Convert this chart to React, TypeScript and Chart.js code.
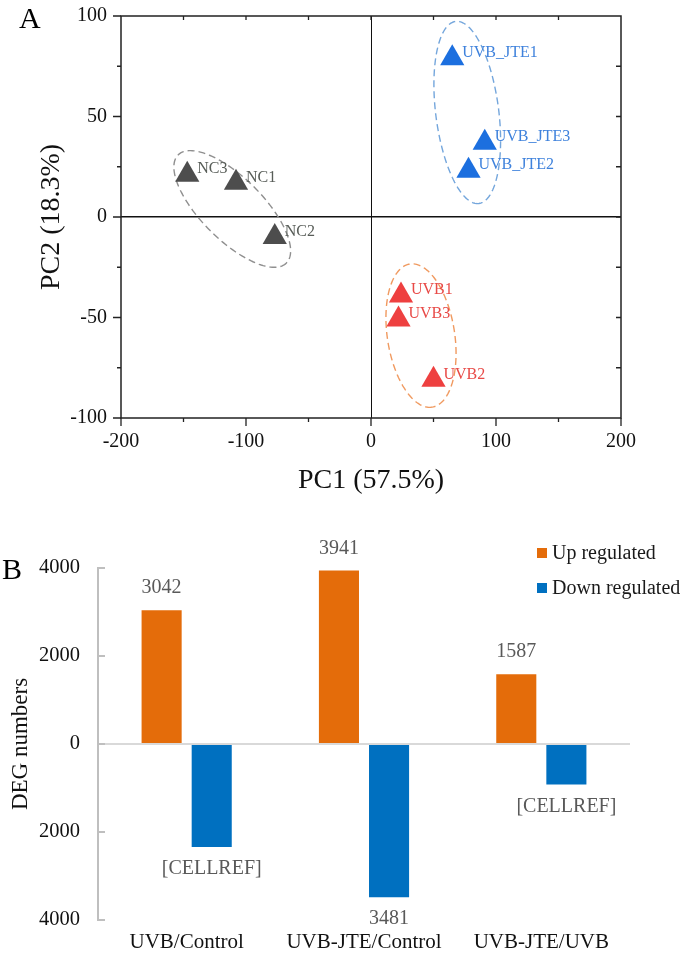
import React, { useEffect, useRef } from "react";
import { Chart, registerables } from "chart.js";

Chart.register(...registerables);

const SERIF = "'Liberation Serif', 'Times New Roman', Times, serif";

// ---------- Panel A: PCA ----------
const ncNames = ["NC1", "NC2", "NC3"];
const ncPC1 = [-108, -77, -147];
const ncPC2 = [17, -10, 21];

const jteNames = ["UVB_JTE1", "UVB_JTE2", "UVB_JTE3"];
const jtePC1 = [65, 78, 91];
const jtePC2 = [79, 23, 37];

const uvbNames = ["UVB1", "UVB2", "UVB3"];
const uvbPC1 = [24, 50, 22];
const uvbPC2 = [-39, -81, -51];

const pc1Ticks = [-200, -100, 0, 100, 200];
const pc2Ticks = [-100, -50, 0, 50, 100];

// group ellipses in data units: centre and two conjugate semi-diameters
const ellipseCenters = [
  [-111, 4],
  [77, 52],
  [40, -59],
];
const ellipseU = [
  [43.3, -26.9],
  [9.3, -45.3],
  [8.9, -35.6],
];
const ellipseV = [
  [-17.5, -10.9],
  [-25.0, -2.0],
  [-26.6, -2.6],
];
const ellipseColors = ["#8f8f8f", "#74a6dc", "#f09a60"];

// ---------- Panel B: DEG bars ----------
const categories = ["UVB/Control", "UVB-JTE/Control", "UVB-JTE/UVB"];
const upRegulated = [3042, 3941, 1587];
const downRegulated = [-2340, -3481, -920];
const upText = ["3042", "3941", "1587"];
const downText = ["[CELLREF]", "3481", "[CELLREF]"];
const degTicks = [-4000, -2000, 0, 2000, 4000];

const pcaPlugin = {
  id: "pcaDecor",
  beforeDatasetsDraw(chart: any) {
    const { ctx } = chart;
    const xs = chart.scales.x;
    const ys = chart.scales.y;
    ctx.save();
    ctx.lineWidth = 1.4;
    ctx.setLineDash([7, 4]);
    ellipseCenters.forEach((c, k) => {
      ctx.strokeStyle = ellipseColors[k];
      ctx.beginPath();
      const n = 160;
      for (let i = 0; i <= n; i++) {
        const t = (i / n) * Math.PI * 2;
        const dx = c[0] + Math.cos(t) * ellipseU[k][0] + Math.sin(t) * ellipseV[k][0];
        const dy = c[1] + Math.cos(t) * ellipseU[k][1] + Math.sin(t) * ellipseV[k][1];
        const px = xs.getPixelForValue(dx);
        const py = ys.getPixelForValue(dy);
        if (i === 0) ctx.moveTo(px, py);
        else ctx.lineTo(px, py);
      }
      ctx.closePath();
      ctx.stroke();
    });
    ctx.restore();
  },
  afterDatasetsDraw(chart: any) {
    const { ctx } = chart;
    const xs = chart.scales.x;
    const ys = chart.scales.y;
    ctx.save();
    // point labels
    ctx.font = `16px ${SERIF}`;
    ctx.textAlign = "left";
    ctx.textBaseline = "middle";
    chart.data.datasets.forEach((ds: any, di: number) => {
      const meta = chart.getDatasetMeta(di);
      ctx.fillStyle = ds.labelColor;
      meta.data.forEach((pt: any, i: number) => {
        ctx.fillText(ds.names[i], pt.x + 10, pt.y - 5.5);
      });
    });
    // frame
    const { left, right, top, bottom } = chart.chartArea;
    ctx.strokeStyle = "#222";
    ctx.lineWidth = 1.5;
    ctx.strokeRect(left, top, right - left, bottom - top);
    ctx.lineWidth = 1.3;
    ctx.beginPath();
    for (let v = -200; v <= 200; v += 50) {
      const px = xs.getPixelForValue(v);
      const major = v % 100 === 0;
      ctx.moveTo(px, bottom);
      ctx.lineTo(px, bottom + (major ? 8 : 4));
      if (v > -200 && v < 200) {
        ctx.moveTo(px, top);
        ctx.lineTo(px, top + 4);
      }
    }
    for (let v = -100; v <= 100; v += 25) {
      const py = ys.getPixelForValue(v);
      const major = v % 50 === 0;
      ctx.moveTo(left - (major ? 8 : 4), py);
      ctx.lineTo(left, py);
      if (v > -100 && v < 100) {
        ctx.moveTo(right - 5, py);
        ctx.lineTo(right, py);
      }
    }
    ctx.stroke();
    // panel letter
    ctx.fillStyle = "#000";
    ctx.font = `30px ${SERIF}`;
    ctx.textBaseline = "alphabetic";
    ctx.textAlign = "left";
    ctx.fillText("A", 19, 28);
    ctx.restore();
  },
};

const degPlugin = {
  id: "degDecor",
  afterDatasetsDraw(chart: any) {
    const { ctx } = chart;
    const ys = chart.scales.y;
    const { left } = chart.chartArea;
    ctx.save();
    // inward tick marks
    ctx.strokeStyle = "#bfbfbf";
    ctx.lineWidth = 2;
    ctx.beginPath();
    ys.ticks.forEach((t: any) => {
      const py = ys.getPixelForValue(t.value);
      ctx.moveTo(left, py);
      ctx.lineTo(left + 7, py);
    });
    ctx.stroke();
    // value labels
    ctx.font = `20px ${SERIF}`;
    ctx.fillStyle = "#595959";
    ctx.textAlign = "center";
    ctx.textBaseline = "middle";
    chart.data.datasets.forEach((ds: any, di: number) => {
      const meta = chart.getDatasetMeta(di);
      meta.data.forEach((bar: any, i: number) => {
        const val = ds.data[i];
        const y = val >= 0 ? bar.y - 22 : bar.y + 22;
        ctx.fillText(ds.valueText[i], bar.x, y);
      });
    });
    // legend
    ctx.textAlign = "left";
    ctx.font = `20px ${SERIF}`;
    chart.data.datasets.forEach((ds: any, di: number) => {
      const y = 53 + di * 35;
      ctx.fillStyle = ds.backgroundColor;
      ctx.fillRect(537, y - 5, 10, 10);
      ctx.fillStyle = "#1a1a1a";
      ctx.fillText(ds.label, 552, y + 1);
    });
    // panel letter
    ctx.fillStyle = "#000";
    ctx.font = `30px ${SERIF}`;
    ctx.textBaseline = "alphabetic";
    ctx.fillText("B", 2, 79);
    ctx.restore();
  },
};

function PcaChart() {
  const ref = useRef<HTMLCanvasElement | null>(null);
  useEffect(() => {
    if (!ref.current) return;
    const mk = (xs: number[], ys: number[]) => xs.map((x, i) => ({ x, y: ys[i] }));
    const chart = new Chart(ref.current, {
      type: "scatter",
      data: {
        datasets: [
          {
            label: "NC",
            data: mk(ncPC1, ncPC2),
            names: ncNames,
            labelColor: "#585d58",
            backgroundColor: "#4d4d4d",
            borderWidth: 0,
            pointStyle: "triangle",
            pointRadius: 14,
            pointHoverRadius: 14,
          } as any,
          {
            label: "UVB_JTE",
            data: mk(jtePC1, jtePC2),
            names: jteNames,
            labelColor: "#3f82dc",
            backgroundColor: "#1c6fdf",
            borderWidth: 0,
            pointStyle: "triangle",
            pointRadius: 14,
            pointHoverRadius: 14,
          } as any,
          {
            label: "UVB",
            data: mk(uvbPC1, uvbPC2),
            names: uvbNames,
            labelColor: "#e84a47",
            backgroundColor: "#ee4040",
            borderWidth: 0,
            pointStyle: "triangle",
            pointRadius: 14,
            pointHoverRadius: 14,
          } as any,
        ],
      },
      options: {
        animation: false,
        responsive: true,
        maintainAspectRatio: false,
        events: [],
        layout: { padding: { left: 0, top: 16, right: 64, bottom: 0 } },
        plugins: { legend: { display: false }, tooltip: { enabled: false } },
        scales: {
          x: {
            type: "linear",
            min: -200,
            max: 200,
            afterBuildTicks: (s: any) => {
              s.ticks = pc1Ticks.map((value) => ({ value }));
            },
            afterFit: (s: any) => {
              s.height = 82;
            },
            border: { display: false },
            grid: {
              drawTicks: false,
              lineWidth: 1,
              color: (c: any) => (c.tick && c.tick.value === 0 ? "#111" : "rgba(0,0,0,0)"),
            },
            ticks: {
              padding: 12,
              color: "#111",
              font: { family: SERIF, size: 20 },
              callback: (v: any) => String(v),
            },
            title: {
              display: true,
              text: "PC1 (57.5%)",
              color: "#111",
              font: { family: SERIF, size: 28 },
              padding: { top: 0, bottom: 3 },
            },
          },
          y: {
            type: "linear",
            min: -100,
            max: 100,
            afterBuildTicks: (s: any) => {
              s.ticks = pc2Ticks.map((value) => ({ value }));
            },
            afterFit: (s: any) => {
              s.width = 121;
              s.paddingTop = 0;
              s.paddingBottom = 0;
            },
            border: { display: false },
            grid: {
              drawTicks: false,
              lineWidth: 1.6,
              color: (c: any) => (c.tick && c.tick.value === 0 ? "#111" : "rgba(0,0,0,0)"),
            },
            ticks: {
              padding: 14,
              color: "#111",
              font: { family: SERIF, size: 20 },
              callback: (v: any) => String(v),
            },
            title: {
              display: true,
              text: "PC2 (18.3%)",
              color: "#111",
              font: { family: SERIF, size: 28 },
              padding: { top: 35, bottom: 0 },
            },
          },
        },
      } as any,
      plugins: [pcaPlugin],
    });
    return () => chart.destroy();
  }, []);
  return <canvas ref={ref} />;
}

function DegChart() {
  const ref = useRef<HTMLCanvasElement | null>(null);
  useEffect(() => {
    if (!ref.current) return;
    const chart = new Chart(ref.current, {
      type: "bar",
      data: {
        labels: categories,
        datasets: [
          {
            label: "Up regulated",
            data: upRegulated,
            valueText: upText,
            backgroundColor: "#e46c0a",
            borderWidth: 0,
            categoryPercentage: 0.565,
            barPercentage: 0.8,
          } as any,
          {
            label: "Down regulated",
            data: downRegulated,
            valueText: downText,
            backgroundColor: "#0070c0",
            borderWidth: 0,
            categoryPercentage: 0.565,
            barPercentage: 0.8,
          } as any,
        ],
      },
      options: {
        animation: false,
        responsive: true,
        maintainAspectRatio: false,
        events: [],
        layout: { padding: { left: 0, top: 68, right: 55, bottom: 0 } },
        plugins: { legend: { display: false }, tooltip: { enabled: false } },
        scales: {
          x: {
            afterFit: (s: any) => {
              s.height = 38;
            },
            border: { display: false },
            grid: { display: false, drawTicks: false },
            ticks: {
              padding: 10,
              color: "#111",
              font: { family: SERIF, size: 21 },
            },
          },
          y: {
            type: "linear",
            min: -4000,
            max: 4000,
            afterBuildTicks: (s: any) => {
              s.ticks = degTicks.map((value) => ({ value }));
            },
            afterFit: (s: any) => {
              s.width = 98;
              s.paddingTop = 0;
              s.paddingBottom = 0;
            },
            border: { display: true, color: "#bfbfbf", width: 2 },
            grid: {
              drawTicks: false,
              lineWidth: 2,
              color: (c: any) => (c.tick && c.tick.value === 0 ? "#d9d9d9" : "rgba(0,0,0,0)"),
            },
            ticks: {
              padding: 18,
              color: "#111",
              font: { family: SERIF, size: 20.5 },
              callback: (v: any) => String(Math.abs(Number(v))),
            },
            title: {
              display: true,
              text: "DEG numbers",
              color: "#111",
              font: { family: SERIF, size: 23 },
              padding: { top: 7, bottom: 0 },
            },
          },
        },
      } as any,
      plugins: [degPlugin],
    });
    return () => chart.destroy();
  }, []);
  return <canvas ref={ref} />;
}

export default function App() {
  return (
    <div
      style={{
        position: "absolute",
        left: 0,
        top: 0,
        width: 685,
        height: 958,
        background: "#fff",
        overflow: "hidden",
      }}
    >
      <div style={{ position: "absolute", left: 0, top: 0, width: 685, height: 500 }}>
        <PcaChart />
      </div>
      <div style={{ position: "absolute", left: 0, top: 500, width: 685, height: 458 }}>
        <DegChart />
      </div>
    </div>
  );
}
